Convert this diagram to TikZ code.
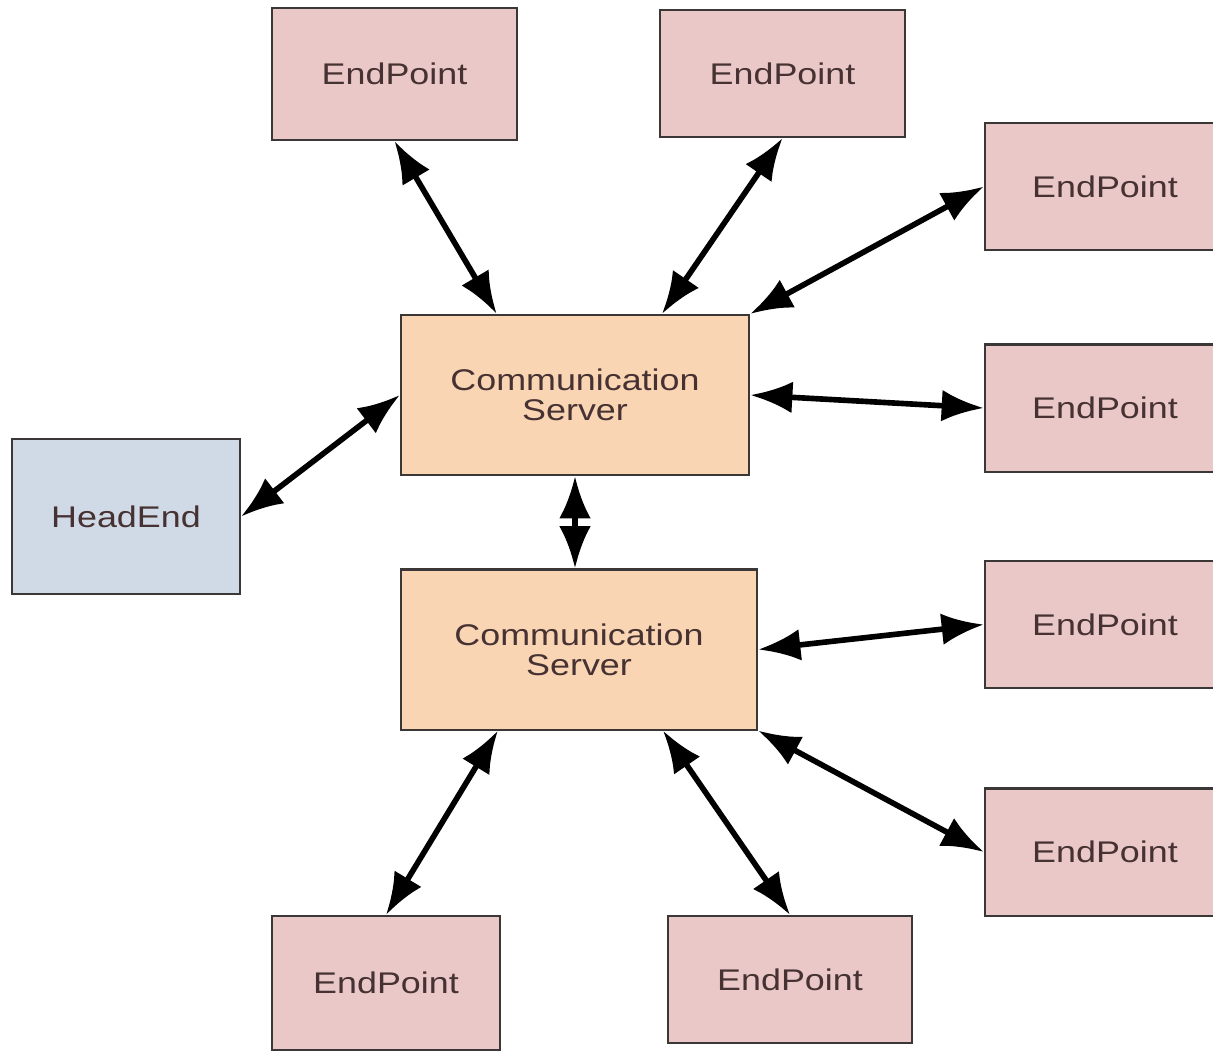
\documentclass[tikz,border=0pt]{standalone}
\usepackage{fontspec}
\setmainfont[FakeStretch=1.2]{Liberation Sans}
\usetikzlibrary{arrows.meta}
\definecolor{epfill}{RGB}{234,200,200}
\definecolor{csfill}{RGB}{250,213,180}
\definecolor{hefill}{RGB}{207,218,230}
\definecolor{boxline}{RGB}{60,55,55}
\definecolor{boxtext}{RGB}{70,50,50}

\begin{document}
\begin{tikzpicture}
  [x=0.01cm,y=-0.01cm,
   box/.style={draw=boxline,line width=0.6pt,text=boxtext,align=center,
     inner sep=0pt,font=\fontsize{8.5}{8.5}\selectfont},
   endpt/.style={box,fill=epfill,minimum width=2.45cm,minimum height=1.27cm},
   server/.style={box,fill=csfill,minimum height=1.6cm},
   headend/.style={box,fill=hefill,minimum width=2.28cm,minimum height=1.55cm},
   link/.style={{Latex[length=12pt,width=9pt]}-{Latex[length=12pt,width=9pt]},
     line width=1.6pt}]
  \useasboundingbox (0,0) rectangle (1213,1050);
  \clip (0,0) rectangle (1213,1050);

  \node[server,minimum width=3.48cm] (cs1) at (575,395) {Communication\\Server};
  \node[server,minimum width=3.56cm] (cs2) at (579,649.5) {Communication\\Server};
  \node[headend] (he) at (126,516.5) {HeadEnd};

  \node[endpt,minimum height=1.32cm] (ep1) at (394.5,74) {EndPoint};
  \node[endpt] (ep2) at (782.5,73.5) {EndPoint};
  \node[endpt,minimum width=2.4cm] (ep3) at (1105,186.5) {EndPoint};
  \node[endpt,minimum width=2.4cm] (ep4) at (1105,408) {EndPoint};
  \node[endpt,minimum width=2.4cm] (ep5) at (1105,624.5) {EndPoint};
  \node[endpt,minimum width=2.4cm] (ep6) at (1105,852) {EndPoint};
  \node[endpt,minimum width=2.28cm,minimum height=1.34cm] (ep7) at (386,983) {EndPoint};
  \node[endpt,minimum width=2.44cm] (ep8) at (790,979.5) {EndPoint};

  \draw[link] (ep1.south) -- (cs1.134);
  \draw[link] (ep2.south) -- (cs1.43);
  \draw[link] (ep3.west) -- (cs1.north east);
  \draw[link] (cs1.east) -- (ep4.west);
  \draw[link] (cs1.west) -- (he.east);
  \draw[link] (cs1.south) -- (cs1.south |- cs2.north);
  \draw[link] (cs2.east) -- (ep5.west);
  \draw[link] (cs2.south east) -- (ep6.west);
  \draw[link] (cs2.225) -- (ep7.north);
  \draw[link] (cs2.316) -- (ep8.north);
\end{tikzpicture}
\end{document}
